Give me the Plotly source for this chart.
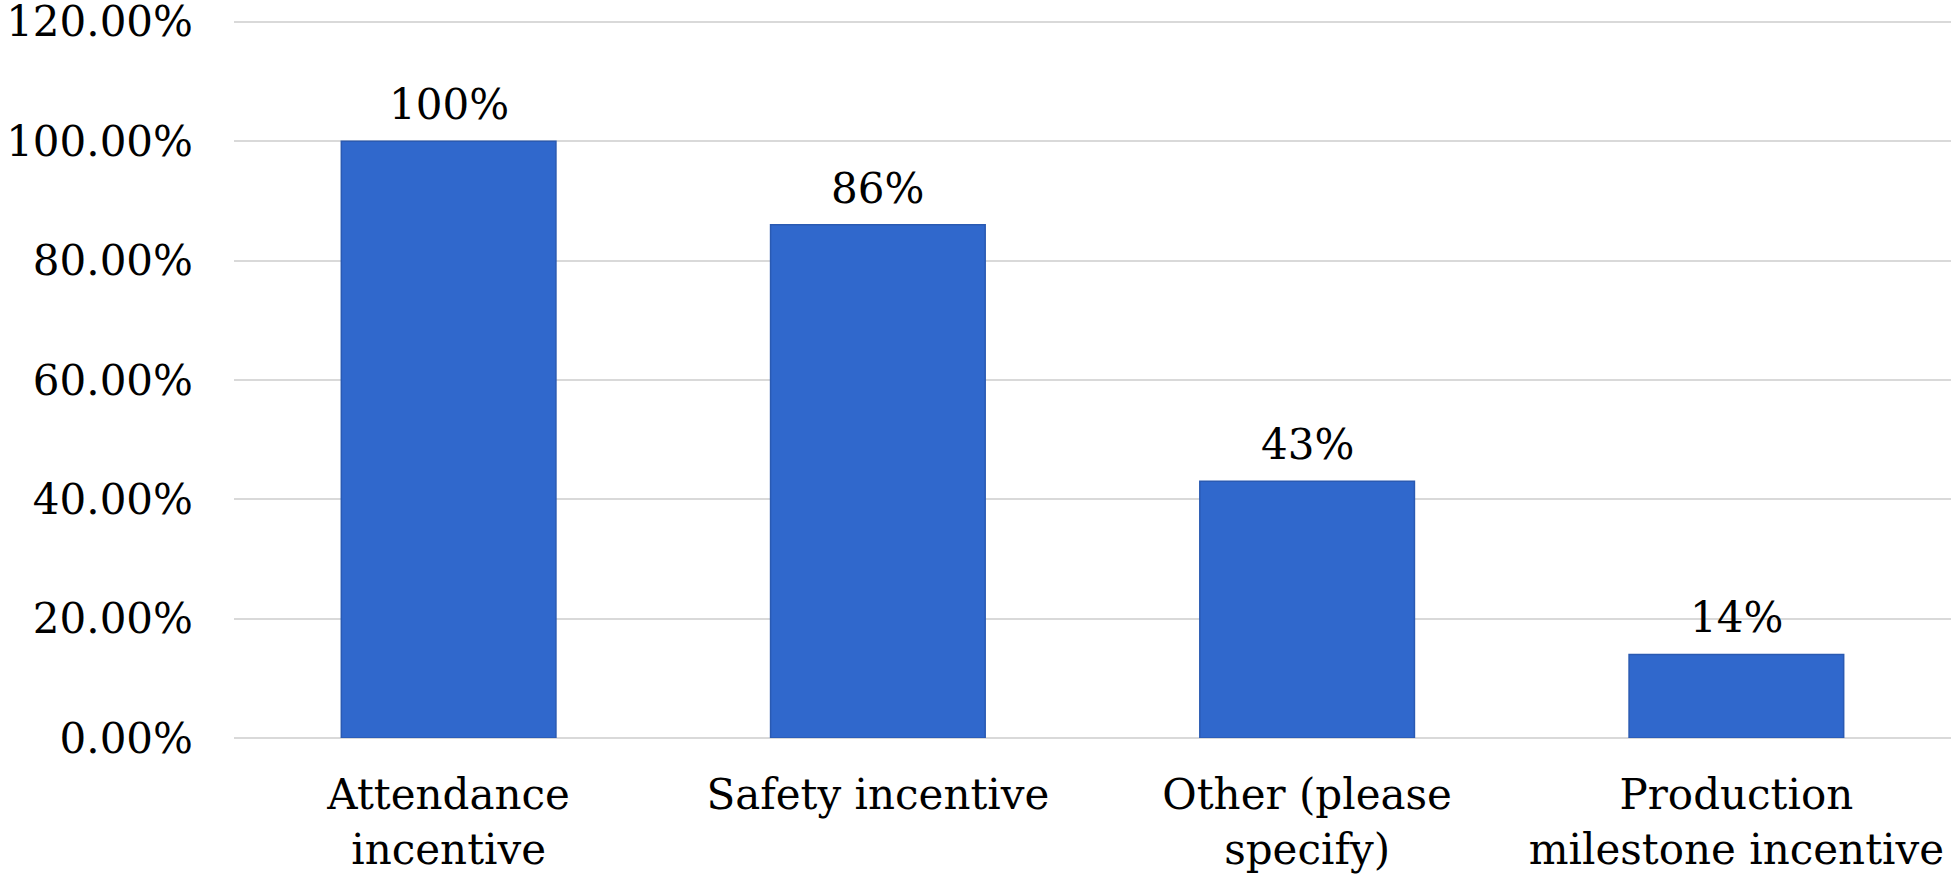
import plotly.graph_objects as go

# Survey results: share of respondents offering each incentive type
categories = [
    "Attendance<br>incentive",
    "Safety incentive",
    "Other (please<br>specify)",
    "Production<br>milestone incentive",
]
shares = [1.00, 0.86, 0.43, 0.14]
y_ticks = [0.0, 0.2, 0.4, 0.6, 0.8, 1.0, 1.2]

FONT = "DejaVu Serif"
SIZE = 42

fig = go.Figure(
    go.Bar(
        x=categories,
        y=shares,
        marker=dict(color="#3068CC", line=dict(color="#2A5AB2", width=1.5)),
        cliponaxis=False,
    )
)

# Value labels sitting above each bar
for cat, val in zip(categories, shares):
    fig.add_annotation(
        x=cat,
        y=val,
        text=f"{val:.0%}",
        showarrow=False,
        yanchor="bottom",
        yshift=10,
        font=dict(family=FONT, size=SIZE, color="#000000"),
    )

fig.update_layout(
    width=1951,
    height=875,
    margin=dict(l=234, r=0, t=20, b=137),
    paper_bgcolor="white",
    plot_bgcolor="white",
    bargap=0.5,
    showlegend=False,
    font=dict(family=FONT, size=SIZE, color="#000000"),
)

fig.update_yaxes(
    range=[0, 1.203],
    tickvals=y_ticks,
    tickformat=".2%",
    showgrid=True,
    gridcolor="#D9D9D9",
    gridwidth=2,
    zeroline=True,
    zerolinecolor="#D9D9D9",
    zerolinewidth=2,
    showline=False,
    ticks="",
    ticklabelstandoff=40,
    ticklabeloverflow="allow",
    automargin=False,
    tickfont=dict(family=FONT, size=SIZE, color="#000000"),
)

fig.update_xaxes(
    showgrid=False,
    showline=False,
    ticks="",
    ticklabelstandoff=28,
    automargin=False,
    tickfont=dict(family=FONT, size=SIZE, color="#000000"),
)

fig.write_html("out.html")
